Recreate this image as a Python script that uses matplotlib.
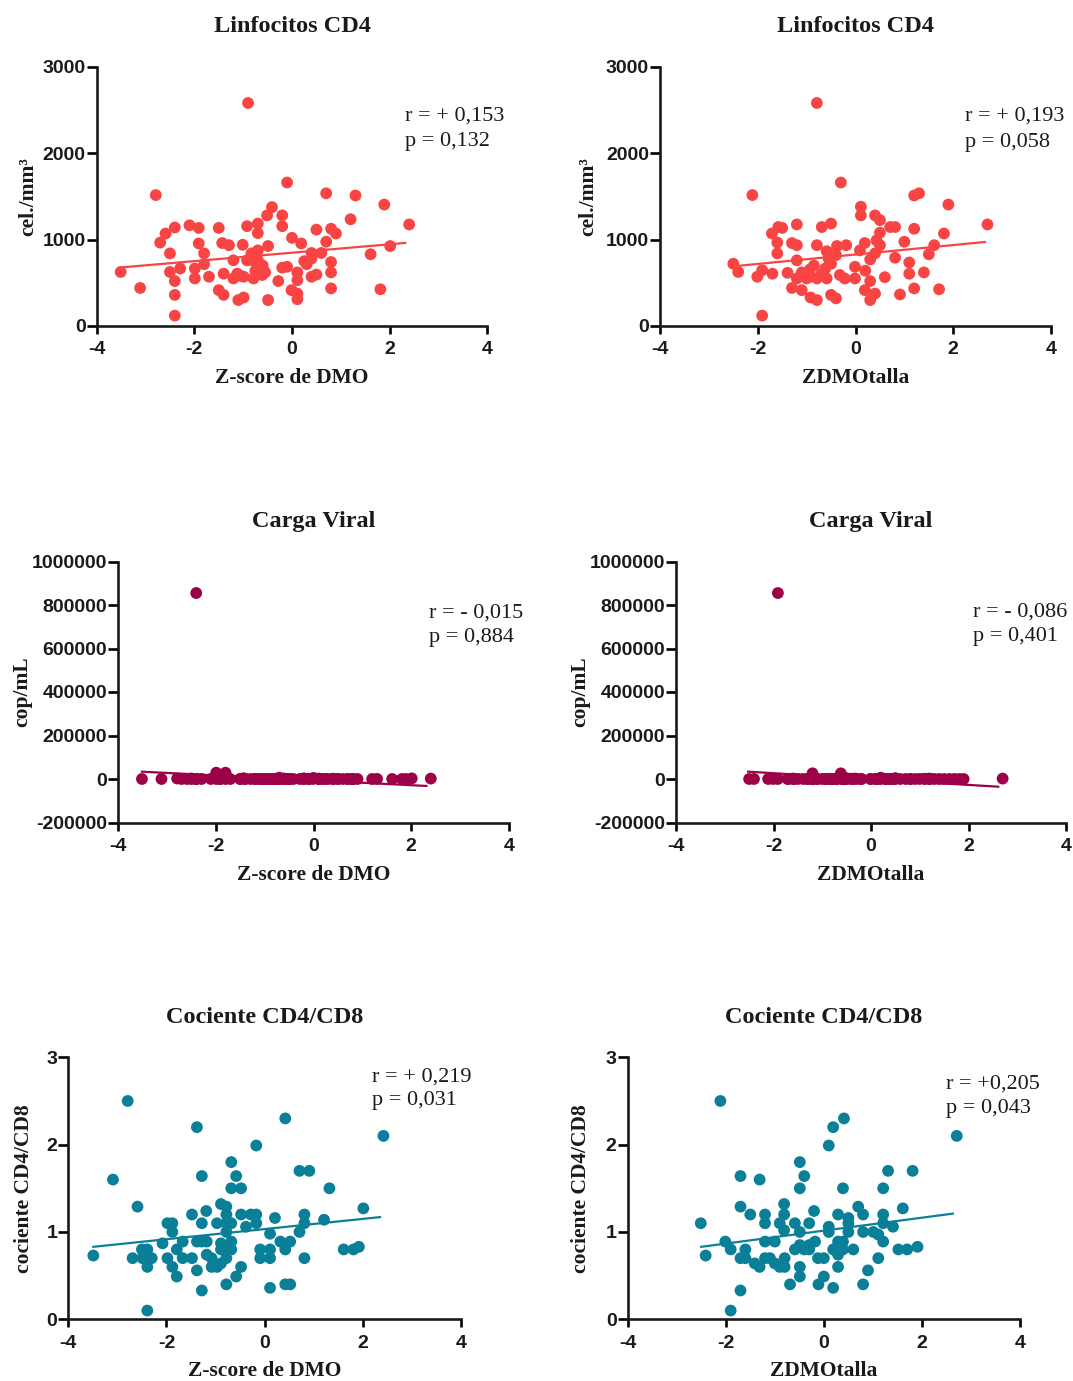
import matplotlib.pyplot as plt

plt.rcParams["axes.unicode_minus"] = False

# ---- datos ----
# Linfocitos CD4 vs Z-score de DMO
dmo_x = [-0.90, -0.10, -2.79, 0.70, 1.30, 1.89, 2.40, -0.41, -0.51, -0.20,
         -0.20, -0.92, -0.70, -0.70, -1.50, -2.10, -1.91, -2.40, -2.59, -2.70,
         -2.50, -1.91, -1.80, -1.43, -1.29, -1.01, -0.49, 0.00, 0.19, 0.50,
         0.80, 0.90, 0.70, 1.20, 2.01, 1.61, 0.60, 0.40, 0.40, 0.30,
         0.80, 0.80, 0.50, 0.40, 0.80, 1.81, 0.11, 0.11, -0.01, 0.11,
         0.11, -0.28, -0.49, -0.10, -0.20, -0.70, -0.81, -0.92, -0.70, -0.61,
         -0.61, -0.79, -0.99, -1.12, -1.20, -1.20, -1.40, -1.50, -1.40, -1.10,
         -0.99, -1.70, -1.80, -1.99, -1.99, -2.29, -2.50, -2.40, -2.40, -2.40,
         -3.11, -3.51, -0.83, -0.60, -0.75, -0.55, -1.05, 0.25]
dmo_cd4 = [2580, 1660, 1515, 1535, 1510, 1405, 1175, 1375, 1280, 1280,
           1155, 1155, 1185, 1075, 1135, 1165, 1135, 1140, 1070, 965,
           840, 955, 840, 960, 935, 940, 925, 1020, 955, 1115,
           1125, 1070, 975, 1235, 925, 830, 845, 845, 780, 715,
           740, 620, 595, 570, 435, 425, 620, 530, 415, 375,
           310, 520, 300, 685, 675, 875, 760, 760, 760, 685,
           590, 550, 570, 605, 760, 550, 605, 415, 360, 300,
           330, 570, 715, 665, 550, 665, 625, 520, 360, 120,
           440, 625, 840, 700, 640, 620, 580, 750]
# Carga viral (mismos pacientes, Z-score de DMO)
dmo_cv = [40, 50, 2300, 50, 400, 50, 1900, 50, 40, 3100,
          50, 40, 50, 1200, 50, 40, 50, 855000, 50, 40,
          50, 50, 29000, 3600, 50, 40, 50, 5000, 50, 400,
          50, 40, 50, 50, 2800, 50, 40, 50, 1500, 50,
          40, 50, 50, 400, 50, 50, 40, 50, 50, 2100,
          50, 40, 50, 50, 400, 6000, 50, 40, 50, 50,
          1400, 50, 40, 50, 50, 900, 50, 40, 50, 50,
          40, 50, 50, 29000, 50, 40, 2500, 50, 50, 40,
          50, 40, 50, 1800, 50, 40, 50, 50]

# Linfocitos CD4 vs ZDMOtalla
talla_x = [-0.79, -0.30, -2.11, 1.20, 1.30, 1.90, 2.70, 0.11, 0.11, 0.40,
           0.50, 0.71, 0.81, 1.20, 1.81, 1.00, 1.61, 1.50, 1.10, 1.10,
           1.40, 1.20, 1.71, 0.81, 0.60, 0.50, 0.43, 0.19, 0.09, 0.40,
           0.30, 0.50, -0.01, -0.01, 0.30, 0.19, 0.30, 0.40, 0.91, -0.69,
           -0.50, -1.20, -1.58, -1.50, -1.71, -1.60, -1.60, -1.30, -1.20, -0.79,
           -0.38, -0.19, -0.59, -0.55, -0.50, -1.20, -2.50, -2.40, -2.01, -1.91,
           -1.70, -1.39, -1.20, -1.10, -0.93, -0.93, -1.00, -0.79, -0.59, -0.32,
           -0.22, -1.30, -1.10, -0.92, -0.79, -0.50, -0.40, -1.91, -0.62, -0.70,
           -0.85, 0.20, -0.40]
talla_cd4 = [2580, 1660, 1515, 1510, 1535, 1405, 1175, 1380, 1280, 1280,
             1225, 1145, 1145, 1125, 1070, 975, 935, 830, 735, 605,
             620, 435, 425, 790, 565, 1080, 990, 960, 875, 840,
             770, 935, 685, 550, 520, 415, 300, 375, 365, 1145,
             1185, 1175, 1145, 1135, 1070, 965, 840, 960, 935, 935,
             925, 935, 865, 780, 720, 760, 720, 625, 570, 645,
             605, 615, 550, 620, 655, 570, 550, 550, 550, 590,
             550, 440, 415, 330, 300, 360, 320, 120, 665, 600,
             700, 640, 820]
talla_cv = [50, 40, 50, 2000, 50, 50, 1900, 40, 50, 50,
            3100, 50, 40, 50, 50, 400, 50, 40, 50, 1200,
            50, 50, 40, 50, 50, 2800, 50, 40, 50, 50,
            400, 50, 40, 50, 50, 1500, 50, 40, 50, 50,
            3600, 50, 40, 50, 50, 50, 2300, 40, 50, 50,
            50, 40, 50, 50, 400, 26000, 50, 40, 50, 855000,
            50, 40, 50, 50, 900, 50, 40, 50, 50, 2100,
            50, 40, 50, 50, 40, 50, 1400, 50, 26000, 40,
            50, 6000, 50]

# Cociente CD4/CD8 vs Z-score de DMO
ratio_dmo_x = [-2.79, -3.09, -2.59, -3.49, -2.69, -2.50, -2.39, -2.49, -2.30, -2.39,
               -2.39, -2.08, -1.98, -1.88, -1.88, -1.98, -1.88, -1.79, -1.79, -1.67,
               -1.67, -1.48, -1.38, -1.28, -1.48, -1.19, -1.28, -1.38, -1.28, -1.18,
               -1.18, -1.38, -1.28, -1.08, -1.08, -0.97, -0.89, -0.78, -0.78, -0.78,
               -0.78, -0.89, -0.89, -0.78, -0.68, -0.68, -0.68, -0.97, -0.89, -0.78,
               -0.78, -0.68, -0.58, -0.68, -0.48, -0.58, -0.48, -0.48, -0.38, -0.28,
               -0.17, -0.17, -0.17, -0.09, -0.09, 0.11, 0.11, 0.11, 0.11, 0.21,
               0.32, 0.42, 0.52, 0.42, 0.42, 0.52, 0.71, 0.91, 0.71, 0.81,
               0.81, 0.81, 1.21, 1.32, 1.61, 1.81, 1.92, 2.01, 2.42]
ratio_dmo_y = [2.50, 1.60, 1.29, 0.73, 0.70, 0.80, 0.80, 0.70, 0.70, 0.60,
               0.10, 0.87, 1.10, 1.10, 1.00, 0.70, 0.60, 0.49, 0.80, 0.89,
               0.70, 0.70, 2.20, 1.64, 1.20, 1.24, 1.10, 0.89, 0.89, 0.89,
               0.74, 0.56, 0.33, 0.70, 0.60, 1.10, 1.32, 1.29, 1.20, 1.10,
               1.00, 0.87, 0.80, 0.80, 0.80, 0.89, 1.10, 0.60, 0.64, 0.70,
               0.40, 1.80, 1.64, 1.50, 1.50, 0.49, 0.60, 1.20, 1.06, 1.20,
               1.20, 1.99, 1.10, 0.80, 0.70, 0.98, 0.80, 0.70, 0.36, 1.16,
               0.89, 0.80, 0.89, 2.30, 0.40, 0.40, 1.70, 1.70, 1.00, 1.10,
               1.20, 0.70, 1.14, 1.50, 0.80, 0.80, 0.83, 1.27, 2.10]

# Cociente CD4/CD8 vs ZDMOtalla
ratio_talla_x = [-2.11, -2.51, -2.41, -1.90, -2.01, -1.90, -1.70, -1.70, -1.70, -1.70,
                 -1.60, -1.60, -1.31, -1.50, -1.20, -1.20, -1.20, -1.41, -1.31, -1.20,
                 -1.10, -1.00, -1.00, -0.90, -0.81, -0.81, -0.81, -0.90, -0.80, -0.80,
                 -0.69, -0.59, -0.59, -0.49, -0.40, -0.49, -0.49, -0.49, -0.49, -0.49,
                 -0.40, -0.30, -0.30, -0.30, -0.18, -0.20, -0.12, -0.11, 0.00, 0.00,
                 0.10, 0.10, 0.10, 0.19, 0.41, 0.19, 0.29, 0.29, 0.29, 0.29,
                 0.29, 0.19, 0.39, 0.39, 0.39, 0.50, 0.50, 0.50, 0.60, 0.70,
                 0.80, 0.80, 0.80, 0.90, 1.01, 1.11, 1.11, 1.21, 1.21, 1.21,
                 1.21, 1.31, 1.41, 1.52, 1.61, 1.70, 1.81, 1.91, 2.71]
ratio_talla_y = [2.50, 1.10, 0.73, 0.10, 0.89, 0.80, 1.64, 1.29, 0.33, 0.70,
                 0.80, 0.70, 1.60, 1.20, 1.20, 1.10, 0.89, 0.64, 0.60, 0.70,
                 0.70, 0.89, 0.64, 1.10, 1.32, 1.20, 1.02, 0.60, 0.70, 0.60,
                 0.40, 1.10, 0.80, 1.80, 1.64, 1.50, 1.00, 0.85, 0.60, 0.49,
                 0.80, 1.10, 0.85, 0.80, 0.89, 1.24, 0.70, 0.40, 0.49, 0.70,
                 1.99, 1.06, 1.00, 2.20, 2.30, 0.80, 1.20, 0.89, 0.80, 0.74,
                 0.60, 0.36, 1.50, 0.89, 0.80, 1.16, 1.10, 1.00, 0.80, 1.29,
                 1.20, 1.00, 0.40, 0.56, 1.00, 0.97, 0.70, 1.20, 1.10, 0.89,
                 1.50, 1.70, 1.06, 0.80, 1.27, 0.80, 1.70, 0.83, 2.10]

# rectas de regresion (extremos)
fit_cd4_dmo = ([-3.51, 2.32], [677, 961])
fit_cd4_talla = ([-2.40, 2.65], [696, 972])
fit_cv_dmo = ([-3.51, 2.31], [33600, -32000])
fit_cv_talla = ([-2.52, 2.61], [33600, -35400])
fit_ratio_dmo = ([-3.49, 2.35], [0.83, 1.17])
fit_ratio_talla = ([-2.50, 2.63], [0.83, 1.21])

xticks = [-4, -2, 0, 2, 4]
cd4_ticks = [0, 1000, 2000, 3000]
cv_ticks = [-200000, 0, 200000, 400000, 600000, 800000, 1000000]
ratio_ticks = [0, 1, 2, 3]

RED = "#F94444"
WINE = "#9C0047"
TEAL = "#0A7F98"
INK = "#1a1a1a"

W, H = 1073, 1381


def rect(l, r, t, b):
    return [l / W, 1 - b / H, (r - l) / W, (b - t) / H]


fig = plt.figure(figsize=(W / 100, H / 100), dpi=100)

serif = "Liberation Serif"
sans = "Liberation Sans"


def panel(r, x, y, fit, color, yticks, title, xlabel, ylabel, ylab_x, stats, tx, ty):
    ax = fig.add_axes(r)
    ax.scatter(x, y, s=72, color=color, edgecolors="none", zorder=3, clip_on=False)
    ax.plot(fit[0], fit[1], color=color, lw=1.6, zorder=4)
    ax.set_xlim(-4, 4)
    ax.set_ylim(yticks[0], yticks[-1])
    ax.set_xticks(xticks)
    ax.set_xticklabels([str(v) for v in xticks])
    ax.set_yticks(yticks)
    ax.set_yticklabels([str(v) for v in yticks])
    for s in ["top", "right"]:
        ax.spines[s].set_visible(False)
    for s in ["left", "bottom"]:
        ax.spines[s].set_linewidth(1.9)
        ax.spines[s].set_color(INK)
    ax.tick_params(axis="x", direction="out", length=6, width=1.9, pad=5)
    ax.tick_params(axis="y", direction="out", length=7, width=1.9, pad=1)
    for lab in ax.get_xticklabels() + ax.get_yticklabels():
        lab.set_fontfamily(sans)
        lab.set_fontweight("bold")
        lab.set_fontsize(14)
        lab.set_color(INK)
    ax.set_title(title, family=serif, weight="bold", fontsize=17.5, pad=25, color=INK)
    ax.set_xlabel(xlabel, family=serif, weight="bold", fontsize=15.5, labelpad=7, color=INK)
    ax.set_ylabel(ylabel, family=serif, weight="bold", fontsize=15.5, color=INK)
    ax.yaxis.label.set_va("center")
    ax.yaxis.set_label_coords(ylab_x, 0.5)
    ax.text(tx, ty[0], stats[0], transform=ax.transAxes, family=serif,
            fontsize=16, va="baseline", color=INK)
    ax.text(tx, ty[1], stats[1], transform=ax.transAxes, family=serif,
            fontsize=16, va="baseline", color=INK)
    return ax


panel(rect(96.7, 487.3, 66.7, 326), dmo_x, dmo_cd4, fit_cd4_dmo, RED, cd4_ticks,
      "Linfocitos CD4", "Z-score de DMO", "cel./mm³", -0.176,
      ("r = + 0,153", "p = 0,132"), 0.789, (0.791, 0.694))
panel(rect(660, 1051, 66.7, 326), talla_x, talla_cd4, fit_cd4_talla, RED, cd4_ticks,
      "Linfocitos CD4", "ZDMOtalla", "cel./mm³", -0.184,
      ("r = + 0,193", "p = 0,058"), 0.780, (0.791, 0.692))
panel(rect(118, 509, 561.5, 822.5), dmo_x, dmo_cv, fit_cv_dmo, WINE, cv_ticks,
      "Carga Viral", "Z-score de DMO", "cop/mL", -0.246,
      ("r = - 0,015", "p = 0,884"), 0.795, (0.785, 0.690))
panel(rect(676, 1066, 561.5, 822.5), talla_x, talla_cv, fit_cv_talla, WINE, cv_ticks,
      "Carga Viral", "ZDMOtalla", "cop/mL", -0.246,
      ("r = - 0,086", "p = 0,401"), 0.761, (0.789, 0.697))
panel(rect(68.3, 461, 1057.3, 1319.3), ratio_dmo_x, ratio_dmo_y, fit_ratio_dmo, TEAL, ratio_ticks,
      "Cociente CD4/CD8", "Z-score de DMO", "cociente CD4/CD8", -0.112,
      ("r = + 0,219", "p = 0,031"), 0.774, (0.908, 0.817))
panel(rect(627.7, 1020, 1057.3, 1319.3), ratio_talla_x, ratio_talla_y, fit_ratio_talla, TEAL, ratio_ticks,
      "Cociente CD4/CD8", "ZDMOtalla", "cociente CD4/CD8", -0.118,
      ("r = +0,205", "p = 0,043"), 0.811, (0.881, 0.786))

fig.savefig("out.png", dpi=100)
